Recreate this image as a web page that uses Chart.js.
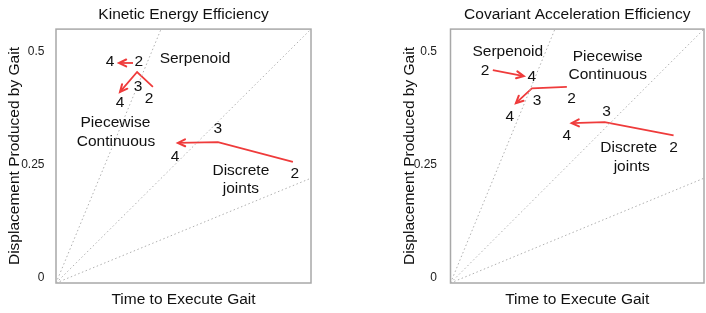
<!DOCTYPE html>
<html>
<head>
<meta charset="utf-8">
<script src="https://cdn.jsdelivr.net/npm/chart.js@4"></script>
<style>
  html, body { margin: 0; padding: 0; background: #fff; }
  .panel { position: absolute; top: 0; width: 353px; height: 313px; }
  #left { left: 0; }
  #right { left: 353px; }
</style>
</head>
<body>
<div class="panel" id="left"><canvas id="keChart" width="353" height="313"></canvas></div>
<div class="panel" id="right"><canvas id="caChart" width="353" height="313"></canvas></div>
<script>
// Axis ticks (y only, x has no scale labels)
const yTicks = [0, 0.25, 0.5];
const yTickLabels = ['0', '0.25', '0.5'];

// Reference efficiency rays, from the corner out to these points
const rayOrigin = [0, -0.011];
const rayEnds = [[0.412, 0.551], [1, 0.551], [1, 0.221]];

// Kinetic energy efficiency: [time, displacement], gait size 2 -> 3 -> 4
const keSerpenoid = [[0.302, 0.476], [0.247, 0.476]];
const kePiecewise = [[0.380, 0.423], [0.318, 0.456], [0.251, 0.412]];
const keDiscrete = [[0.929, 0.257], [0.635, 0.301], [0.478, 0.299]];

// Covariant acceleration efficiency
const caSerpenoid = [[0.167, 0.460], [0.289, 0.447]];
const caPiecewise = [[0.459, 0.423], [0.321, 0.420], [0.258, 0.387]];
const caDiscrete = [[0.880, 0.316], [0.608, 0.345], [0.478, 0.343]];

// Gait-size numbers next to the points: [text, x, y]
const keNumbers = [
  ['4', 0.212, 0.478], ['2', 0.325, 0.478],
  ['2', 0.365, 0.398], ['3', 0.322, 0.423], ['4', 0.251, 0.389],
  ['2', 0.937, 0.230], ['3', 0.635, 0.330], ['4', 0.467, 0.268]
];
const caNumbers = [
  ['2', 0.136, 0.458], ['4', 0.321, 0.445],
  ['2', 0.478, 0.398], ['3', 0.341, 0.392], ['4', 0.234, 0.358],
  ['2', 0.880, 0.288], ['3', 0.616, 0.369], ['4', 0.459, 0.314]
];

// Group names: [text, x, y]
const keGroups = [
  ['Serpenoid', 0.545, 0.485],
  ['Piecewise', 0.233, 0.343], ['Continuous', 0.235, 0.301],
  ['Discrete', 0.725, 0.237], ['joints', 0.725, 0.197]
];
const caGroups = [
  ['Serpenoid', 0.226, 0.502],
  ['Piecewise', 0.620, 0.489], ['Continuous', 0.620, 0.449],
  ['Discrete', 0.703, 0.288], ['joints', 0.715, 0.246]
];

const FONT = '"Liberation Sans", Arial, Helvetica, sans-serif';
const RED = '#ef3b3b';
const toPts = arr => arr.map(p => ({ x: p[0], y: p[1] }));

// Frame, arrowheads and text labels, all placed through the chart scales
const overlayPlugin = {
  id: 'overlay',
  beforeDatasetsDraw(chart) {
    const { ctx, chartArea: a } = chart;
    ctx.save();
    ctx.strokeStyle = '#a8a8a8';
    ctx.lineWidth = 1.5;
    ctx.strokeRect(a.left, a.top, a.right - a.left, a.bottom - a.top);
    ctx.restore();
  },
  afterDatasetsDraw(chart) {
    const { ctx, scales } = chart;
    const extra = chart.options.plugins.overlay;
    ctx.save();
    // arrowheads at the last point of each gait line
    chart.data.datasets.forEach((ds, i) => {
      if (!ds.arrow) return;
      const pts = chart.getDatasetMeta(i).data;
      const p1 = pts[pts.length - 2], p2 = pts[pts.length - 1];
      const ang = Math.atan2(p2.y - p1.y, p2.x - p1.x);
      const len = 8, spread = 0.45;
      ctx.strokeStyle = RED;
      ctx.lineWidth = 2;
      ctx.lineCap = 'round';
      ctx.beginPath();
      ctx.moveTo(p2.x - len * Math.cos(ang - spread), p2.y - len * Math.sin(ang - spread));
      ctx.lineTo(p2.x, p2.y);
      ctx.lineTo(p2.x - len * Math.cos(ang + spread), p2.y - len * Math.sin(ang + spread));
      ctx.stroke();
    });
    ctx.fillStyle = '#111';
    ctx.textAlign = 'center';
    ctx.textBaseline = 'middle';
    ctx.font = '15.5px ' + FONT;
    extra.labels.forEach(([t, x, y]) => {
      ctx.fillText(t, scales.x.getPixelForValue(x), scales.y.getPixelForValue(y));
    });
    ctx.restore();
  }
};

function makeChart(id, title, serp, piece, disc, numbers, groups, padLeft, padRight, tickPad) {
  const rays = rayEnds.map(e => ({
    data: toPts([rayOrigin, e]),
    showLine: true,
    borderColor: '#b0b0b0',
    borderWidth: 1,
    borderDash: [1.5, 2.5],
    pointRadius: 0
  }));
  const gaits = [serp, piece, disc].map(s => ({
    data: toPts(s),
    showLine: true,
    arrow: true,
    borderColor: RED,
    borderWidth: 1.8,
    pointRadius: 0
  }));
  return new Chart(document.getElementById(id), {
    type: 'scatter',
    data: { datasets: rays.concat(gaits) },
    plugins: [overlayPlugin],
    options: {
      responsive: false,
      animation: false,
      events: [],
      layout: { padding: { left: padLeft, right: padRight, top: 0, bottom: 0 } },
      plugins: {
        legend: { display: false },
        tooltip: { enabled: false },
        title: {
          display: true,
          text: title,
          fullSize: false,
          color: '#111',
          font: { family: FONT, size: 15.5, weight: 'normal' },
          padding: { top: 5.5, bottom: 5 }
        },
        overlay: { labels: numbers.concat(groups) }
      },
      scales: {
        x: {
          type: 'linear',
          min: 0,
          max: 1,
          grid: { display: false },
          border: { display: false },
          ticks: { display: false },
          title: {
            display: true,
            text: 'Time to Execute Gait',
            color: '#111',
            font: { family: FONT, size: 15.5 },
            padding: { top: 0, bottom: 3.7 }
          },
          afterFit: s => { s.height = 30; }
        },
        y: {
          type: 'linear',
          min: -0.011,
          max: 0.551,
          grid: { display: false },
          border: { display: false },
          afterBuildTicks: s => { s.ticks = yTicks.map(v => ({ value: v })); },
          ticks: {
            padding: tickPad,
            color: '#222',
            font: { family: FONT, size: 12 },
            callback: v => yTickLabels[yTicks.indexOf(v)]
          },
          title: {
            display: true,
            text: 'Displacement Produced by Gait',
            color: '#111',
            font: { family: FONT, size: 15.5 },
            padding: { top: 5.7, bottom: 0 }
          },
          afterFit: s => { s.width = 56; }
        }
      }
    }
  });
}

makeChart('keChart', 'Kinetic Energy Efficiency', keSerpenoid, kePiecewise, keDiscrete,
  keNumbers, keGroups, 0, 42, 3.5);
makeChart('caChart', 'Covariant Acceleration Efficiency', caSerpenoid, caPiecewise, caDiscrete,
  caNumbers, caGroups, 41.5, 2, 5.5);
</script>
</body>
</html>
